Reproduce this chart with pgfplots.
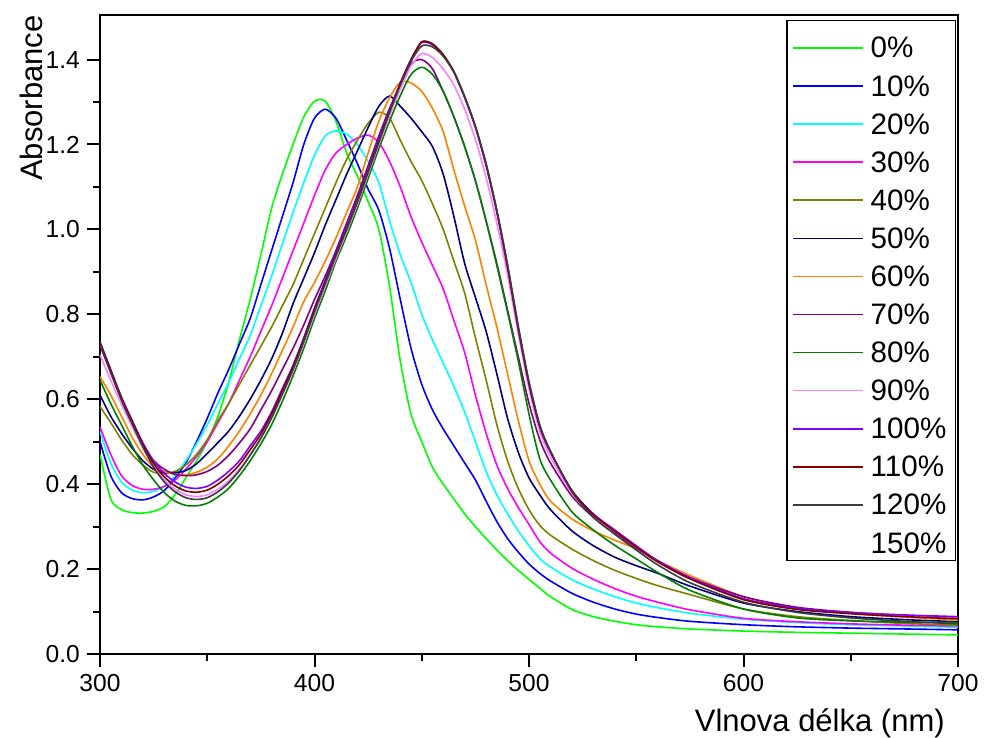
\documentclass[border=0pt]{standalone}
\usepackage{pgfplots}
\usepackage{pgfplotstable}
\pgfplotsset{compat=1.18}
\usepackage{fontspec}
\setmainfont{Liberation Sans}

\definecolor{c0}{RGB}{0,255,0}
\definecolor{c10}{RGB}{0,0,255}
\definecolor{c20}{RGB}{0,255,255}
\definecolor{c30}{RGB}{255,0,255}
\definecolor{c40}{RGB}{128,128,0}
\definecolor{c50}{RGB}{0,0,128}
\definecolor{c60}{RGB}{255,128,0}
\definecolor{c70}{RGB}{128,0,128}
\definecolor{c80}{RGB}{0,128,0}
\definecolor{c90}{RGB}{255,128,255}
\definecolor{c100}{RGB}{128,0,255}
\definecolor{c110}{RGB}{128,0,0}
\definecolor{c120}{RGB}{60,60,60}

\pgfplotsset{
  firstlegend/.style={legend image code/.code={%
    \path[draw=none,fill=none] (0pt,0pt) rectangle (37pt,11pt);
    \draw[line width=0.8pt,##1] (0pt,0pt) -- (35pt,0pt);}},
}

\pgfplotstableread{
x p0 p10 p20 p30 p40 p50 p60 p70 p80 p90 p100 p110 p120
300 0.470 0.500 0.525 0.535 0.583 0.610 0.653 0.728 0.645 0.705 0.735 0.733 0.728
305 0.365 0.420 0.450 0.470 0.545 0.560 0.610 0.665 0.590 0.645 0.670 0.668 0.662
310 0.340 0.380 0.405 0.420 0.505 0.520 0.560 0.600 0.540 0.588 0.605 0.603 0.598
315 0.333 0.366 0.386 0.397 0.470 0.485 0.510 0.540 0.490 0.535 0.550 0.548 0.542
320 0.332 0.363 0.380 0.388 0.445 0.455 0.470 0.490 0.445 0.485 0.497 0.493 0.488
325 0.336 0.370 0.383 0.388 0.428 0.435 0.440 0.455 0.410 0.443 0.455 0.449 0.440
330 0.347 0.385 0.395 0.395 0.426 0.427 0.430 0.435 0.380 0.410 0.425 0.417 0.405
335 0.375 0.415 0.420 0.410 0.430 0.427 0.423 0.423 0.360 0.388 0.405 0.396 0.382
340 0.415 0.450 0.455 0.435 0.445 0.432 0.422 0.420 0.350 0.375 0.393 0.384 0.368
345 0.455 0.500 0.495 0.465 0.470 0.448 0.428 0.422 0.349 0.371 0.390 0.381 0.364
350 0.500 0.555 0.540 0.500 0.505 0.472 0.440 0.430 0.355 0.375 0.395 0.386 0.368
355 0.560 0.615 0.590 0.545 0.550 0.498 0.460 0.445 0.370 0.388 0.410 0.400 0.382
360 0.640 0.670 0.640 0.590 0.590 0.525 0.490 0.468 0.390 0.408 0.430 0.420 0.403
365 0.740 0.730 0.695 0.645 0.635 0.560 0.525 0.497 0.420 0.435 0.455 0.446 0.432
370 0.835 0.790 0.750 0.700 0.680 0.600 0.565 0.530 0.455 0.470 0.490 0.481 0.468
375 0.940 0.870 0.820 0.760 0.725 0.645 0.610 0.575 0.495 0.510 0.525 0.518 0.508
380 1.050 0.950 0.890 0.820 0.770 0.695 0.660 0.620 0.540 0.556 0.570 0.565 0.556
385 1.130 1.030 0.965 0.885 0.820 0.755 0.715 0.670 0.595 0.610 0.625 0.620 0.612
390 1.200 1.110 1.040 0.950 0.870 0.825 0.770 0.720 0.655 0.667 0.680 0.676 0.670
395 1.265 1.200 1.110 1.015 0.930 0.885 0.830 0.775 0.720 0.732 0.745 0.741 0.736
400 1.302 1.262 1.175 1.080 0.990 0.945 0.875 0.835 0.790 0.800 0.815 0.811 0.806
405 1.302 1.283 1.220 1.140 1.050 1.010 0.925 0.890 0.855 0.866 0.880 0.876 0.872
410 1.255 1.262 1.232 1.180 1.110 1.070 0.980 0.950 0.925 0.932 0.945 0.941 0.938
415 1.180 1.210 1.224 1.200 1.165 1.130 1.040 1.015 0.985 0.995 1.005 1.002 1.000
420 1.125 1.155 1.200 1.215 1.210 1.185 1.100 1.080 1.050 1.060 1.070 1.067 1.065
425 1.065 1.095 1.160 1.222 1.250 1.240 1.180 1.150 1.120 1.130 1.140 1.137 1.135
430 1.000 1.045 1.110 1.205 1.276 1.290 1.255 1.220 1.190 1.200 1.210 1.207 1.205
435 0.865 0.955 1.020 1.160 1.262 1.314 1.310 1.285 1.255 1.268 1.280 1.278 1.276
440 0.690 0.835 0.940 1.100 1.210 1.290 1.347 1.340 1.315 1.330 1.345 1.343 1.340
445 0.565 0.720 0.875 1.030 1.160 1.262 1.345 1.390 1.365 1.385 1.400 1.400 1.396
450 0.500 0.635 0.800 0.970 1.115 1.230 1.325 1.400 1.382 1.414 1.440 1.442 1.432
455 0.440 0.575 0.740 0.915 1.060 1.195 1.285 1.378 1.365 1.405 1.435 1.437 1.430
460 0.400 0.530 0.685 0.860 1.000 1.130 1.230 1.325 1.325 1.378 1.410 1.412 1.408
465 0.365 0.490 0.630 0.785 0.925 1.030 1.140 1.265 1.265 1.340 1.370 1.372 1.370
470 0.330 0.450 0.570 0.710 0.850 0.920 1.055 1.195 1.195 1.283 1.310 1.313 1.312
475 0.300 0.410 0.500 0.610 0.745 0.840 0.975 1.115 1.115 1.212 1.240 1.243 1.243
480 0.272 0.360 0.430 0.520 0.646 0.760 0.870 1.020 1.020 1.122 1.150 1.153 1.155
485 0.245 0.312 0.375 0.445 0.540 0.660 0.770 0.920 0.915 1.015 1.040 1.043 1.046
490 0.220 0.272 0.330 0.390 0.455 0.555 0.660 0.810 0.805 0.893 0.910 0.913 0.918
495 0.197 0.240 0.290 0.345 0.390 0.475 0.550 0.700 0.690 0.755 0.765 0.768 0.773
500 0.176 0.212 0.255 0.305 0.340 0.415 0.455 0.590 0.565 0.625 0.635 0.638 0.642
505 0.155 0.190 0.225 0.265 0.303 0.375 0.400 0.505 0.460 0.525 0.535 0.537 0.540
510 0.135 0.172 0.205 0.238 0.280 0.340 0.360 0.450 0.410 0.465 0.475 0.477 0.478
520 0.105 0.143 0.175 0.202 0.247 0.290 0.318 0.372 0.335 0.378 0.385 0.385 0.382
530 0.088 0.122 0.153 0.176 0.220 0.255 0.290 0.322 0.292 0.325 0.330 0.328 0.322
540 0.077 0.106 0.135 0.154 0.197 0.228 0.268 0.285 0.256 0.288 0.292 0.289 0.282
550 0.069 0.094 0.120 0.136 0.178 0.208 0.248 0.250 0.224 0.252 0.255 0.252 0.245
560 0.064 0.086 0.109 0.122 0.161 0.190 0.220 0.218 0.192 0.218 0.220 0.217 0.210
575 0.059 0.077 0.096 0.104 0.140 0.160 0.185 0.180 0.150 0.178 0.180 0.177 0.168
600 0.054 0.069 0.082 0.084 0.106 0.120 0.135 0.135 0.106 0.130 0.130 0.128 0.122
625 0.051 0.064 0.074 0.076 0.088 0.100 0.108 0.110 0.085 0.106 0.108 0.105 0.098
650 0.049 0.061 0.069 0.071 0.079 0.088 0.095 0.098 0.078 0.096 0.098 0.095 0.085
675 0.047 0.059 0.066 0.068 0.072 0.081 0.087 0.090 0.075 0.089 0.092 0.088 0.077
700 0.045 0.057 0.063 0.066 0.068 0.076 0.080 0.085 0.074 0.084 0.088 0.083 0.071
}\spectra

\begin{document}
\begin{tikzpicture}
\begin{axis}[
  name=ax,
  width=429pt, height=319.5pt, scale only axis,
  xmin=300, xmax=700, ymin=0, ymax=1.505,
  axis line style={line width=1pt},
  tick align=outside, tick pos=left,
  xtick={300,400,500,600,700}, minor xtick={350,450,550,650},
  ytick={0,0.2,0.4,0.6,0.8,1.0,1.2,1.4},
  minor ytick={0.1,0.3,0.5,0.7,0.9,1.1,1.3},
  major tick length=6.5pt, minor tick length=3.5pt,
  every tick/.style={black, line width=1pt},
  /pgf/number format/assume math mode=true,
  yticklabel style={/pgf/number format/.cd, fixed, fixed zerofill, precision=1},
  ticklabel style={font=\fontsize{12.3}{12.3}\selectfont},
  xlabel={Vlnova délka (nm)},
  ylabel={Absorbance},
  label style={font=\fontsize{15.5}{15.5}\selectfont},
  xlabel style={at={(axis description cs:0.985,0)}, anchor=north east, inner sep=0pt, yshift=-27pt},
  ylabel style={at={(axis description cs:-0.0664,1)}, anchor=south east, inner sep=0pt},
  every axis plot/.append style={line width=0.8pt, smooth, tension=0.45},
  legend cell align=left,
  legend image code/.code={%
    \path[draw=none,fill=none] (0pt,0pt) -- (37pt,0pt);
    \draw[line width=0.8pt,#1] (0pt,0pt) -- (35pt,0pt);},
  legend style={at={(axis description cs:0.9977,0.9922)}, anchor=north east,
    draw=black, line width=0.6pt, fill=white,
    inner xsep=2.5pt, inner ysep=2.7pt, row sep=7.04pt,
    font=\fontsize{14.8}{14.8}\selectfont,
    nodes={inner xsep=2pt, inner ysep=0pt, text height=11pt, text depth=1pt}},
]
\addplot[c0, firstlegend] table[x=x,y=p0]{\spectra};
\addlegendentry{0\%}
\addplot[c10] table[x=x,y=p10]{\spectra};
\addlegendentry{10\%}
\addplot[c20] table[x=x,y=p20]{\spectra};
\addlegendentry{20\%}
\addplot[c30] table[x=x,y=p30]{\spectra};
\addlegendentry{30\%}
\addplot[c40] table[x=x,y=p40]{\spectra};
\addlegendentry{40\%}
\addplot[c50] table[x=x,y=p50]{\spectra};
\addlegendentry{50\%}
\addplot[c60] table[x=x,y=p60]{\spectra};
\addlegendentry{60\%}
\addplot[c70] table[x=x,y=p70]{\spectra};
\addlegendentry{70\%}
\addplot[c80] table[x=x,y=p80]{\spectra};
\addlegendentry{80\%}
\addplot[c90] table[x=x,y=p90]{\spectra};
\addlegendentry{90\%}
\addplot[c100] table[x=x,y=p100]{\spectra};
\addlegendentry{100\%}
\addplot[c110] table[x=x,y=p110]{\spectra};
\addlegendentry{110\%}
\addplot[c120] table[x=x,y=p120]{\spectra};
\addlegendentry{120\%}
\addlegendimage{white}
\addlegendentry{150\%}
\end{axis}
\pgfresetboundingbox
\path ([xshift=-50pt,yshift=-42pt]ax.south west) rectangle ([xshift=13pt,yshift=7.5pt]ax.north east);
\end{tikzpicture}
\end{document}
